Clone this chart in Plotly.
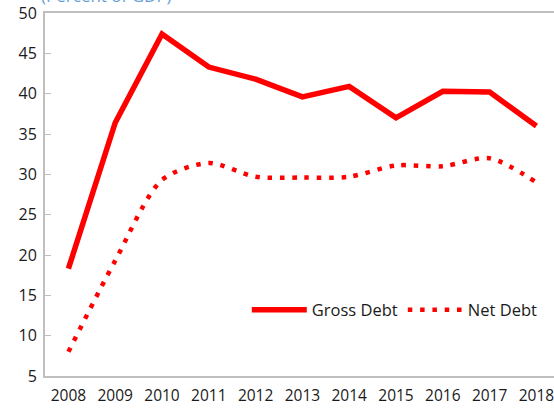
import plotly.graph_objects as go

years = ["2008", "2009", "2010", "2011", "2012", "2013", "2014", "2015", "2016", "2017", "2018"]
gross_debt = [18.3, 36.4, 47.4, 43.3, 41.8, 39.6, 40.9, 37.0, 40.3, 40.2, 36.0]
net_debt = [8.0, 19.3, 29.3, 31.4, 29.7, 29.6, 29.7, 31.1, 31.0, 32.0, 29.0]

red = "#FF0000"
axis_gray = "#BFBFBF"
font_family = "Open Sans, Noto Sans, sans-serif"

fig = go.Figure()
fig.add_trace(go.Scatter(
    x=years, y=gross_debt, name="Gross Debt", mode="lines",
    line=dict(color=red, width=5.5),
))
fig.add_trace(go.Scatter(
    x=years, y=net_debt, name="Net Debt", mode="lines",
    line=dict(color=red, width=4.5, dash="4.5px,7.8px", shape="spline", smoothing=0.8),
))

fig.add_annotation(
    text="(Percent of GDP)", xref="paper", yref="paper", x=-0.012, y=1.047,
    xanchor="left", yanchor="middle", showarrow=False,
    font=dict(family=font_family, size=17, color="#6A9FD6"),
)

fig.update_layout(
    width=554, height=414,
    margin=dict(l=45, r=0, t=13, b=38, autoexpand=False),
    paper_bgcolor="white", plot_bgcolor="white",
    font=dict(family=font_family, size=15, color="#000000"),
    showlegend=True,
    legend=dict(
        orientation="h", x=0.978, xanchor="right", y=0.182, yanchor="middle",
        font=dict(size=16.5, color="#1a1a1a"), bgcolor="rgba(0,0,0,0)",
        itemwidth=55, tracegroupgap=0,
    ),
    xaxis=dict(
        type="category", range=[-0.5, 10.376],
        showline=True, linecolor=axis_gray, linewidth=2, mirror=True,
        showgrid=False, ticks="", zeroline=False,
        tickfont=dict(size=15.5, color="#1a1a1a"),
        ticklabelstandoff=4,
    ),
    yaxis=dict(
        range=[5, 50], dtick=5, tick0=5,
        showline=True, linecolor=axis_gray, linewidth=2,
        showgrid=False, zeroline=False,
        ticks="inside", ticklen=6, tickcolor=axis_gray, tickwidth=1,
        ticklabelstandoff=3,
        tickfont=dict(size=16, color="#1a1a1a"),
    ),
)

fig.write_html(
    "out.html",
    config={"displayModeBar": False},
    post_script="document.body.style.margin='0';",
)
